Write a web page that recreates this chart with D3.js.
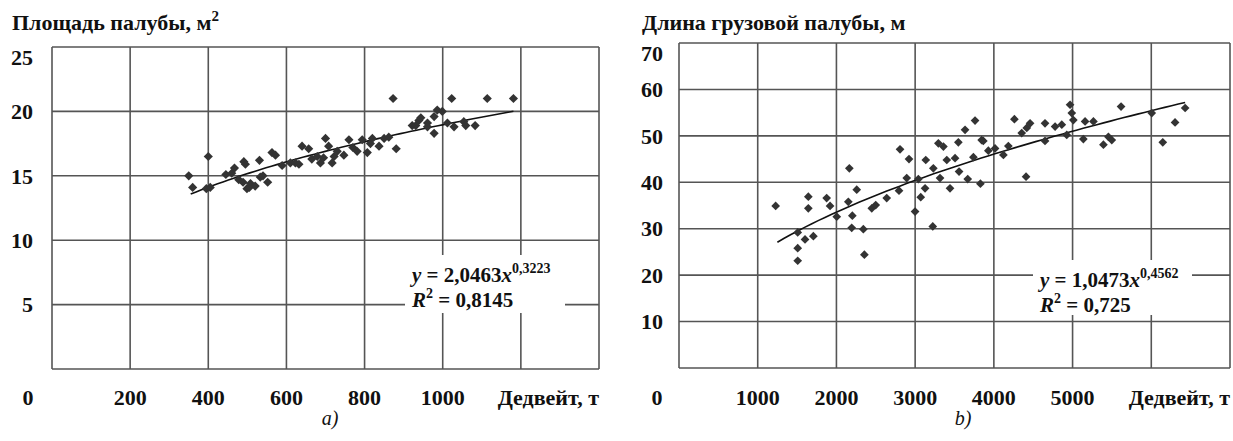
<!DOCTYPE html>
<html>
<head>
<meta charset="utf-8">
<script src="https://cdn.jsdelivr.net/npm/d3@7"></script>
<style>
  body { margin: 0; background: #fff; }
</style>
</head>
<body>
<div id="graph"></div>
<script>
// Données : a) surface de pont, b) longueur du pont cargo
var xTicksA = [200, 400, 600, 800, 1000];
var yTicksA = [5, 10, 15, 20, 25];
var gridXA = [0, 200, 400, 600, 800, 1000, 1200, 1400];
var dwtA = [350, 360, 395, 400, 405, 445, 460, 467, 478, 489, 491, 495, 499, 505, 508, 520, 531, 533, 540, 552,
            563, 572, 589, 610, 623, 632, 640, 657, 665, 679, 687, 695, 700, 708, 717, 722, 730, 747, 760, 770,
            781, 794, 807, 815, 820, 837, 850, 862, 873, 881, 922, 931, 939, 944, 961, 961, 978, 978, 986, 999,
            1012, 1023, 1029, 1054, 1059, 1083, 1114, 1181];
var areaA = [15.0, 14.1, 14.0, 16.5, 14.1, 15.1, 15.2, 15.6, 14.7, 14.5, 16.1, 15.9, 14.0, 14.1, 14.4, 14.2, 16.2, 14.9, 15.0, 14.5,
             16.8, 16.6, 15.8, 16.0, 16.0, 15.9, 17.3, 17.1, 16.3, 16.5, 16.0, 16.4, 17.9, 17.3, 16.0, 16.5, 16.9, 16.6, 17.8, 17.2,
             16.9, 17.8, 16.8, 17.5, 17.9, 17.3, 17.9, 18.0, 21.0, 17.1, 18.9, 18.9, 19.3, 19.5, 19.1, 18.8, 19.6, 18.3, 20.1, 20.0,
             19.1, 21.0, 18.8, 19.2, 18.9, 18.9, 21.0, 21.0];
var fitA = [2.0463, 0.3223];      // y = a*x^b
var fitRangeA = [355, 1181];

var xTicksB = [1000, 2000, 3000, 4000, 5000];
var yTicksB = [10, 20, 30, 40, 50, 60, 70];
var gridXB = [0, 1000, 2000, 3000, 4000, 5000, 6000, 7000];
var dwtB = [1228, 1508, 1508, 1508, 1601, 1707, 1643, 1643, 1876, 1919, 2004, 2164, 2151, 2258, 2202, 2194, 2342, 2355, 2449, 2499,
            2639, 2795, 2808, 2922, 2893, 2999, 3071, 3041, 3126, 3135, 3224, 3231, 3295, 3359, 3316, 3443, 3402, 3507, 3549, 3558,
            3634, 3668, 3740, 3761, 3829, 3845, 3866, 3930, 4015, 4121, 4184, 4261, 4354, 4418, 4460, 4409, 4650, 4650, 4778, 4863,
            4926, 4968, 4990, 5010, 5137, 5159, 5265, 5392, 5455, 5498, 5616, 6006, 6146, 6302, 6430];
var lenB = [34.9, 29.2, 25.8, 23.1, 27.7, 28.4, 36.9, 34.4, 36.6, 34.9, 32.6, 43.0, 35.8, 38.4, 32.8, 30.2, 29.9, 24.4, 34.4, 35.1,
            36.6, 38.2, 47.1, 45.0, 40.9, 33.7, 36.8, 40.7, 38.7, 44.8, 30.5, 43.0, 48.4, 47.7, 40.9, 38.7, 44.8, 45.2, 48.6, 42.3,
            51.3, 40.7, 45.4, 53.3, 39.7, 49.1, 48.9, 46.8, 47.3, 45.9, 47.8, 53.6, 50.6, 51.7, 52.7, 41.2, 48.9, 52.7, 52.0, 52.4,
            50.2, 56.7, 54.9, 53.4, 49.3, 53.1, 53.1, 48.1, 49.8, 49.1, 56.3, 54.9, 48.6, 52.9, 56.0];
var fitB = [1.0473, 0.4562];
var fitRangeB = [1250, 6430];

var W = 1233, H = 441;
var FONT = "'Liberation Serif'";
var svg = d3.select("#graph").append("svg").attr("width", W).attr("height", H);

// petit utilitaire pour les textes
function txt(g, x, y, size, s) {
    return g.append("text").attr("x", x).attr("y", y)
        .style("font-family", FONT).style("font-size", size + "px")
        .style("font-weight", "bold").attr("fill", "#111").text(s);
}

function chart(o) {
    var x = d3.scaleLinear().domain(o.xDom).range(o.xRange);
    var y = d3.scaleLinear().domain(o.yDom).range(o.yRange);
    var g = svg.append("g");

    // grille
    g.selectAll("line.gx").data(o.gridX).enter().append("line")
        .attr("x1", d => x(d)).attr("x2", d => x(d))
        .attr("y1", y(o.yDom[0])).attr("y2", y(o.yDom[1]))
        .attr("stroke", "#555").attr("stroke-width", 1.6);
    g.selectAll("line.gy").data([0].concat(o.yTicks)).enter().append("line")
        .attr("x1", x(o.xDom[0])).attr("x2", x(o.xDom[1]))
        .attr("y1", d => y(d)).attr("y2", d => y(d))
        .attr("stroke", "#555").attr("stroke-width", 1.6);

    // courbe de tendance
    var pts = d3.range(0, 61).map(i => {
        var xv = o.fitRange[0] + (o.fitRange[1] - o.fitRange[0]) * i / 60;
        return [xv, o.fit[0] * Math.pow(xv, o.fit[1])];
    });
    g.append("path")
        .attr("fill", "none").attr("stroke", "#111").attr("stroke-width", 1.6)
        .attr("d", d3.line().x(d => x(d[0])).y(d => y(d[1]))(pts));

    // points (losanges)
    var sym = d3.symbol().type(d3.symbolSquare).size(o.msize);
    g.selectAll("path.pt").data(o.xs).enter().append("path")
        .attr("d", sym)
        .attr("fill", "#333")
        .attr("transform", (d, i) => "translate(" + x(d) + "," + y(o.ys[i]) + ") rotate(45)");

    // boîte de l'équation
    g.append("rect")
        .attr("x", o.box[0]).attr("y", o.box[1]).attr("width", o.box[2]).attr("height", o.box[3])
        .attr("fill", "#fff");
    var eq = txt(g, o.box[0] + 7, o.box[1] + 27, 21, null);
    eq.append("tspan").style("font-style", "italic").text("y");
    eq.append("tspan").text(" = " + o.eqA);
    eq.append("tspan").style("font-style", "italic").text("x");
    eq.append("tspan").style("font-size", "14px").attr("dy", -9).text(o.eqB);
    var r2 = txt(g, o.box[0] + 7, o.box[1] + 52, 21, null);
    r2.append("tspan").style("font-style", "italic").text("R");
    r2.append("tspan").style("font-size", "14px").attr("dy", -9).text("2");
    r2.append("tspan").attr("dy", 9).text(" = " + o.r2);

    // étiquettes des axes
    o.yTicks.forEach(d => {
        txt(g, x(o.xDom[0]) - o.yLabDx, y(d) + (d === o.yDom[1] ? 10 : 0), 22, d)
            .attr("dy", "0.35em").attr("text-anchor", "end");
    });
    o.xTicks.forEach(d => {
        txt(g, x(d), 405, 22, d).attr("text-anchor", "middle");
    });
    txt(g, x(0) - o.zeroDx, 405, 22, "0").attr("text-anchor", "middle");
    txt(g, x(o.xDom[1]), 405, 22, "Дедвейт, т").attr("text-anchor", "end");
    var t = txt(g, o.titleX, 30, 22, o.title);
    if (o.sup) t.append("tspan").style("font-size", "15px").attr("dy", -9).text(o.sup);
    txt(g, o.subX, 425, 20, o.sub).attr("text-anchor", "middle")
        .style("font-weight", "normal").style("font-style", "italic");
}

chart({
    xDom: [0, 1400], xRange: [52, 599], yDom: [0, 25], yRange: [369, 47],
    gridX: gridXA, xTicks: xTicksA, yTicks: yTicksA, xs: dwtA, ys: areaA,
    fit: fitA, fitRange: fitRangeA, msize: 42,
    box: [405, 255, 160, 58], eqA: "2,0463", eqB: "0,3223", r2: "0,8145",
    yLabDx: 19, zeroDx: 24, title: "Площадь палубы, м", sup: "2", titleX: 12,
    sub: "a)", subX: 330
});
chart({
    xDom: [0, 7000], xRange: [679, 1230], yDom: [0, 70], yRange: [368, 43],
    gridX: gridXB, xTicks: xTicksB, yTicks: yTicksB, xs: dwtB, ys: lenB,
    fit: fitB, fitRange: fitRangeB, msize: 38,
    box: [1033, 260, 159, 55], eqA: "1,0473", eqB: "0,4562", r2: "0,725",
    yLabDx: 16, zeroDx: 22, title: "Длина грузовой палубы, м", sup: null, titleX: 642,
    sub: "b)", subX: 963
});
</script>
</body>
</html>
